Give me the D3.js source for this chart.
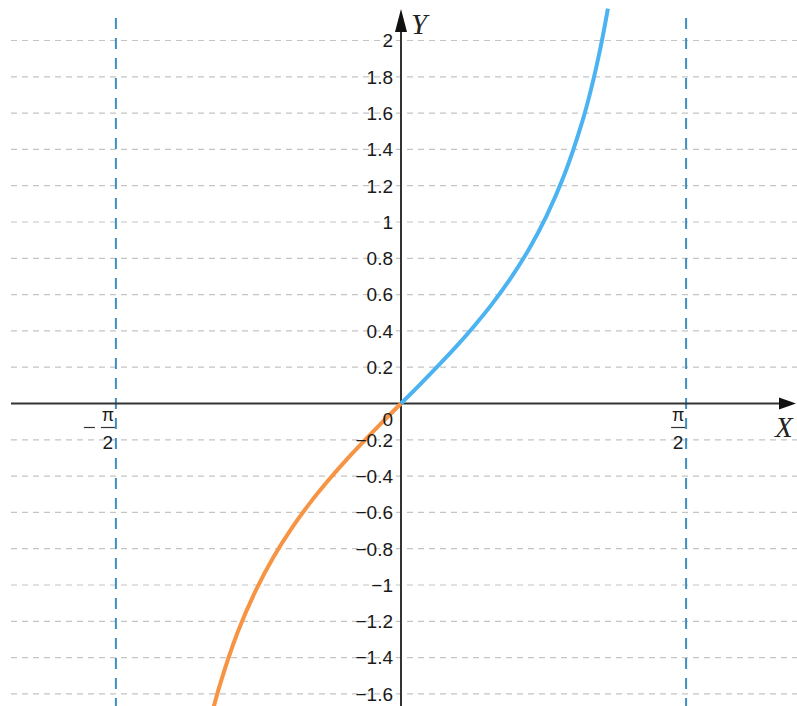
<!DOCTYPE html>
<html>
<head>
<meta charset="utf-8">
<script src="https://cdn.jsdelivr.net/npm/d3@7"></script>
<style>
  html, body { margin: 0; padding: 0; background: #fff; }
  svg { display: block; }
  .tick-label { font-family: "Liberation Sans", Arial, sans-serif; font-size: 19px; fill: #1a1a1a; }
  .axis-name { font-family: "Liberation Serif", "DejaVu Serif", serif; font-style: italic; font-size: 29px; fill: #222; }
</style>
</head>
<body>
<div id="chart"></div>
<script>
// values
var yTicks = [-1.6, -1.4, -1.2, -1, -0.8, -0.6, -0.4, -0.2, 0.2, 0.4, 0.6, 0.8, 1, 1.2, 1.4, 1.6, 1.8, 2];
var asymptotes = [-Math.PI / 2, Math.PI / 2];
var asymptoteLabels = ["\u2212", ""];

var blueX = [0, 0.1, 0.2, 0.3, 0.4, 0.5, 0.6, 0.7, 0.8, 0.9, 1.0, 1.05, 1.1, 1.14];
var blueY = [0, 0.100, 0.203, 0.309, 0.423, 0.546, 0.684, 0.842, 1.030, 1.260, 1.557, 1.743, 1.965, 2.176];
var orangeX = [-1.04, -1.0, -0.9, -0.8, -0.7, -0.6, -0.5, -0.4, -0.3, -0.2, -0.1, 0];
var orangeY = [-1.704, -1.557, -1.260, -1.030, -0.842, -0.684, -0.546, -0.423, -0.309, -0.203, -0.100, 0];

var width = 797, height = 706;
var unit = 181.5, ox = 401, oy = 403.5;

var x = d3.scaleLinear().domain([-ox / unit, (width - ox) / unit]).range([0, width]);
var y = d3.scaleLinear().domain([oy / unit, -(height - oy) / unit]).range([0, height]);

var svg = d3.select('#chart').append('svg')
  .attr('width', width)
  .attr('height', height);

// horizontal dashed grid
svg.append('g').selectAll('line')
  .data(yTicks)
  .enter().append('line')
  .attr('x1', 11).attr('x2', width)
  .attr('y1', d => y(d)).attr('y2', d => y(d))
  .attr('stroke', '#c4c4c4')
  .attr('stroke-width', 1.2)
  .attr('stroke-dasharray', '6,5');

// asymptotes
svg.append('g').selectAll('line')
  .data(asymptotes)
  .enter().append('line')
  .attr('x1', d => x(d)).attr('x2', d => x(d))
  .attr('y1', 18).attr('y2', height)
  .attr('stroke', '#3d8fbf')
  .attr('stroke-width', 2)
  .attr('stroke-dasharray', '11,9');

// axes
var axisColor = '#333';
svg.append('line')
  .attr('x1', 11).attr('x2', 782)
  .attr('y1', y(0)).attr('y2', y(0))
  .attr('stroke', axisColor).attr('stroke-width', 2);
svg.append('path')
  .attr('d', 'M' + 796 + ',' + y(0) + 'L' + 779 + ',' + (y(0) - 6) + 'L' + 779 + ',' + (y(0) + 6) + 'Z')
  .attr('fill', '#111');
svg.append('line')
  .attr('x1', x(0)).attr('x2', x(0))
  .attr('y1', height).attr('y2', 26)
  .attr('stroke', axisColor).attr('stroke-width', 2);
svg.append('path')
  .attr('d', 'M' + x(0) + ',' + 9 + 'L' + (x(0) - 6) + ',' + 32 + 'L' + (x(0) + 6) + ',' + 32 + 'Z')
  .attr('fill', '#111');

// curves
var line = d3.line()
  .x(d => x(d[0]))
  .y(d => y(d[1]))
  .curve(d3.curveCatmullRom.alpha(0.5));

svg.append('path')
  .datum(orangeX.map((v, i) => [v, orangeY[i]]))
  .attr('d', line)
  .attr('fill', 'none')
  .attr('stroke', '#f79443')
  .attr('stroke-width', 4);

svg.append('path')
  .datum(blueX.map((v, i) => [v, blueY[i]]))
  .attr('d', line)
  .attr('fill', 'none')
  .attr('stroke', '#4cb3f2')
  .attr('stroke-width', 4);

// y tick labels
var fmt = d => (d < 0 ? '\u2212' : '') + String(Math.abs(d));
svg.append('g').selectAll('text')
  .data(yTicks)
  .enter().append('text')
  .attr('class', 'tick-label')
  .attr('x', x(0) - 8)
  .attr('y', d => y(d))
  .attr('dy', '0.36em')
  .attr('text-anchor', 'end')
  .text(fmt);

svg.append('text')
  .attr('class', 'tick-label')
  .attr('x', x(0) - 8)
  .attr('y', y(0) + 16)
  .attr('dy', '0.36em')
  .attr('text-anchor', 'end')
  .text('0');

// pi/2 labels
asymptotes.forEach(function(a, i) {
  var cx = x(a) - 8;
  var g = svg.append('g');
  g.append('text')
    .attr('class', 'tick-label')
    .attr('x', cx).attr('y', y(0) + 17)
    .attr('text-anchor', 'middle')
    .style('font-size', '18px')
    .text('\u03c0');
  g.append('line')
    .attr('x1', cx - 7).attr('x2', cx + 7)
    .attr('y1', y(0) + 24).attr('y2', y(0) + 24)
    .attr('stroke', '#333').attr('stroke-width', 1.2);
  g.append('text')
    .attr('class', 'tick-label')
    .attr('x', cx).attr('y', y(0) + 45)
    .attr('text-anchor', 'middle')
    .text('2');
  if (asymptoteLabels[i]) {
    g.append('line')
      .attr('x1', cx - 24).attr('x2', cx - 13)
      .attr('y1', y(0) + 24).attr('y2', y(0) + 24)
      .attr('stroke', '#333').attr('stroke-width', 1.2);
  }
});

// axis names
svg.append('text').attr('class', 'axis-name')
  .attr('x', 411).attr('y', 34).text('Y');
svg.append('text').attr('class', 'axis-name')
  .attr('x', 775).attr('y', 437).text('X');
</script>
</body>
</html>
